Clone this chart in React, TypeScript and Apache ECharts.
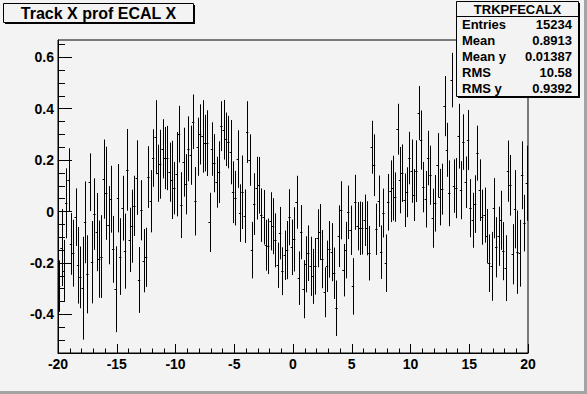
import React, { useEffect, useRef } from "react";
import * as echarts from "echarts";

// ---- data ----
const X_MIN = -20;
const X_MAX = 20;
const BIN_W = 0.2;
const xTickLabels = ["-20", "-15", "-10", "-5", "0", "5", "10", "15", "20"];
const yTickValues = [-0.4, -0.2, 0, 0.2, 0.4, 0.6];
const yTickLabels = ["-0.4", "-0.2", "0", "0.2", "0.4", "0.6"];
const yMinorValues = [-0.5, -0.45, -0.35, -0.3, -0.25, -0.15, -0.1, -0.05, 0.05, 0.1, 0.15, 0.25, 0.3, 0.35, 0.45, 0.5, 0.55, 0.65];

const profMeans = [
  -0.29, -0.14, -0.23, 0.032, 0.123, -0.126, -0.162, -0.022, -0.209, -0.256,
  -0.298, -0.042, -0.244, 0.114, -0.197, -0.01, -0.08, -0.185, -0.175, 0.126,
  0.071, -0.053, 0.048, -0.147, -0.302, 0.052, -0.175, 0.013, -0.154, 0.162,
  -0.11, -0.057, 0.022, 0.132, -0.266, 0.005, -0.191, -0.178, 0.134, 0.04,
  0.208, 0.289, 0.149, 0.184, 0.244, 0.208, 0.208, 0.153, 0.123, 0.091,
  0.145, 0.301, 0.025, 0.192, 0.106, 0.244, 0.219, 0.349, 0.04, 0.252,
  0.3, 0.292, 0.266, 0.266, -0.042, 0.243, 0.188, 0.114, 0.153, 0.332,
  0.318, 0.281, 0.27, 0.231, 0.075, 0.052, 0.204, -0.006, 0.075, -0.018,
  0.309, 0.2, -0.15, 0.029, 0.091, 0.102, -0.014, -0.022, -0.131, -0.135,
  -0.038, -0.057, -0.112, -0.209, -0.084, -0.232, -0.17, -0.15, -0.022, -0.139,
  -0.108, 0.036, -0.259, -0.08, -0.302, -0.205, -0.162, -0.213, -0.252, -0.213,
  -0.104, -0.08, -0.185, -0.314, -0.213, -0.147, -0.158, -0.24, -0.376, -0.096,
  0.005, -0.228, -0.15, -0.003, -0.073, -0.291, 0.036, -0.057, -0.065, -0.065,
  -0.034, -0.065, -0.162, 0.25, 0.18, -0.069, 0.04, -0.158, -0.006, -0.201,
  0.036, 0.079, 0.091, 0.056, 0.32, 0.122, 0.149, 0.044, 0.075, 0.208,
  0.157, 0.064, 0.157, 0.383, 0.278, 0.095, 0.048, 0.208, 0.141, -0.026,
  0.032, 0.18, 0.056, 0.087, 0.41, 0.24, 0.071, 0.511, 0.099, 0.091,
  0.293, 0.083, 0.27, 0.114, 0.278, 0.013, -0.034, 0.029, 0.227, 0.083,
  -0.022, -0.014, -0.096, -0.201, -0.213, 0.013, -0.139, -0.096, -0.034, -0.154,
  -0.22, 0.157, 0.102, -0.166, 0.009, -0.158, -0.162, 0.141, -0.045, 0.11,
];

const profErrors = [
  0.1, 0.15, 0.12, 0.136, 0.123, 0.12, 0.13, 0.112, 0.149, 0.12,
  0.2, 0.159, 0.152, 0.112, 0.16, 0.139, 0.152, 0.15, 0.161, 0.154,
  0.181, 0.152, 0.13, 0.13, 0.167, 0.133, 0.149, 0.126, 0.146, 0.159,
  0.125, 0.142, 0.117, 0.145, 0.128, 0.117, 0.123, 0.115, 0.12, 0.121,
  0.112, 0.144, 0.111, 0.134, 0.115, 0.121, 0.125, 0.115, 0.152, 0.102,
  0.164, 0.11, 0.128, 0.134, 0.117, 0.126, 0.115, 0.106, 0.133, 0.113,
  0.117, 0.141, 0.11, 0.128, 0.115, 0.104, 0.113, 0.099, 0.12, 0.097,
  0.116, 0.104, 0.102, 0.125, 0.12, 0.106, 0.112, 0.112, 0.143, 0.104,
  0.12, 0.1, 0.11, 0.12, 0.122, 0.11, 0.104, 0.106, 0.099, 0.108,
  0.113, 0.109, 0.105, 0.088, 0.102, 0.093, 0.096, 0.113, 0.109, 0.108,
  0.125, 0.103, 0.104, 0.105, 0.113, 0.109, 0.108, 0.115, 0.107, 0.11,
  0.113, 0.109, 0.113, 0.097, 0.1, 0.11, 0.113, 0.1, 0.108, 0.12,
  0.113, 0.102, 0.11, 0.104, 0.096, 0.11, 0.107, 0.094, 0.104, 0.102,
  0.1, 0.105, 0.106, 0.103, 0.12, 0.1, 0.1, 0.104, 0.095, 0.112,
  0.11, 0.12, 0.126, 0.096, 0.099, 0.129, 0.112, 0.104, 0.097, 0.102,
  0.123, 0.101, 0.12, 0.105, 0.115, 0.098, 0.11, 0.106, 0.115, 0.115,
  0.11, 0.125, 0.11, 0.099, 0.117, 0.105, 0.128, 0.106, 0.104, 0.117,
  0.126, 0.113, 0.108, 0.1, 0.117, 0.113, 0.107, 0.112, 0.107, 0.12,
  0.107, 0.107, 0.106, 0.112, 0.134, 0.117, 0.117, 0.115, 0.115, 0.113,
  0.128, 0.119, 0.118, 0.117, 0.152, 0.162, 0.13, 0.132, 0.11, 0.146,
];

const titleText = "Track X prof ECAL X";
const statsName = "TRKPFECALX";
const statsLabels = ["Entries", "Mean", "Mean y", "RMS", "RMS y"];
const statsValues = ["15234", "0.8913", "0.01387", "10.58", "0.9392"];

const BG = "#f3f3f3";
const FONT = "'Liberation Sans', Arial, Helvetica, sans-serif";

export default function App() {
  const ref = useRef<HTMLDivElement>(null);

  useEffect(() => {
    document.body.style.margin = "0";
    const chart = echarts.init(ref.current!, undefined, { renderer: "svg" });

    const data = profMeans.map((m, i) => [X_MIN + BIN_W * (i + 0.5), m, profErrors[i]]);

    const statsRows: any[] = [];
    statsLabels.forEach((lab, i) => {
      const y = 24.5 + i * 16;
      statsRows.push({
        type: "text",
        style: { text: lab, x: 462, y, fill: "#000", font: `bold 13px ${FONT}`, textAlign: "left", textVerticalAlign: "middle" },
      });
      statsRows.push({
        type: "text",
        style: { text: statsValues[i], x: 572, y, fill: "#000", font: `bold 13px ${FONT}`, textAlign: "right", textVerticalAlign: "middle" },
      });
    });

    chart.setOption({
      animation: false,
      backgroundColor: BG,
      grid: { left: 58, right: 59, top: 40, bottom: 41, show: true, borderColor: "#000", borderWidth: 1, backgroundColor: "transparent" },
      xAxis: {
        type: "value",
        min: X_MIN,
        max: X_MAX,
        interval: 5,
        axisLine: { show: true, onZero: false, lineStyle: { color: "#000", width: 1 } },
        axisTick: { show: true, inside: true, length: 9, lineStyle: { color: "#000" } },
        minorTick: { show: true, splitNumber: 5, length: 4.5, lineStyle: { color: "#000" } },
        splitLine: { show: false },
        axisLabel: {
          color: "#000",
          fontFamily: FONT,
          fontWeight: "bold",
          fontSize: 14,
          margin: 4,
          formatter: (v: number) => xTickLabels[Math.round((v - X_MIN) / 5)] ?? String(v),
        },
      },
      yAxis: [
        {
          type: "value",
          min: -0.55,
          max: 0.667,
          axisLine: { show: true, onZero: false, lineStyle: { color: "#000", width: 1 } },
          axisTick: { show: true, inside: true, length: 14, customValues: yTickValues, lineStyle: { color: "#000" } },
          splitLine: { show: false },
          axisLabel: {
            color: "#000",
            fontFamily: FONT,
            fontWeight: "bold",
            fontSize: 14,
            margin: 4,
            customValues: yTickValues,
            formatter: (v: number) => {
              const k = yTickValues.findIndex((t) => Math.abs(t - v) < 1e-6);
              return k >= 0 ? yTickLabels[k] : "";
            },
          },
        },
        {
          type: "value",
          min: -0.55,
          max: 0.667,
          position: "left",
          axisLine: { show: false, onZero: false },
          axisTick: { show: true, inside: true, length: 7, customValues: yMinorValues, lineStyle: { color: "#000" } },
          splitLine: { show: false },
          axisLabel: { show: false },
        },
      ],
      series: [
        {
          type: "custom",
          clip: true,
          data,
          renderItem: (params: any, api: any) => {
            const c = api.value(0);
            const v = api.value(1);
            const e = api.value(2);
            const top = api.coord([c, v + e]);
            const bot = api.coord([c, v - e]);
            const l = api.coord([c - BIN_W / 2, v]);
            const r = api.coord([c + BIN_W / 2, v]);
            const x = Math.round(top[0]) + 0.5;
            const y = Math.round(l[1]) + 0.5;
            return {
              type: "group",
              children: [
                { type: "line", shape: { x1: x, y1: top[1], x2: x, y2: bot[1] }, style: { stroke: "#000", lineWidth: 1 } },
                { type: "line", shape: { x1: l[0], y1: y, x2: r[0], y2: y }, style: { stroke: "#000", lineWidth: 1 } },
              ],
            };
          },
        },
      ],
      graphic: [
        // canvas bevel
        { type: "rect", z: 100, shape: { x: 584, y: 0, width: 3, height: 394 }, style: { fill: "#a4a4a4" } },
        { type: "rect", z: 100, shape: { x: 0, y: 391, width: 587, height: 3 }, style: { fill: "#a4a4a4" } },
        // title box
        { type: "rect", z: 100, shape: { x: 5, y: 5, width: 190, height: 19 }, style: { fill: "#000" } },
        { type: "rect", z: 101, shape: { x: 3.5, y: 3.5, width: 190, height: 19 }, style: { fill: BG, stroke: "#000", lineWidth: 1 } },
        {
          type: "text",
          z: 102,
          style: { text: titleText, x: 98.5, y: 13, fill: "#000", font: `bold 16px ${FONT}`, textAlign: "center", textVerticalAlign: "middle" },
        },
        // stats box
        { type: "rect", z: 100, shape: { x: 458, y: 3, width: 122, height: 95 }, style: { fill: "#000" } },
        { type: "rect", z: 101, shape: { x: 456.5, y: 1.5, width: 122, height: 95 }, style: { fill: BG, stroke: "#000", lineWidth: 1 } },
        { type: "line", z: 102, shape: { x1: 456.5, y1: 16.5, x2: 578.5, y2: 16.5 }, style: { stroke: "#000", lineWidth: 1 } },
        {
          type: "text",
          z: 102,
          style: { text: statsName, x: 517.5, y: 9, fill: "#000", font: `bold 13px ${FONT}`, textAlign: "center", textVerticalAlign: "middle" },
        },
        ...statsRows.map((r) => ({ ...r, z: 102 })),
      ],
    });

    return () => chart.dispose();
  }, []);

  return <div ref={ref} style={{ width: 587, height: 394, position: "absolute", left: 0, top: 0 }} />;
}
